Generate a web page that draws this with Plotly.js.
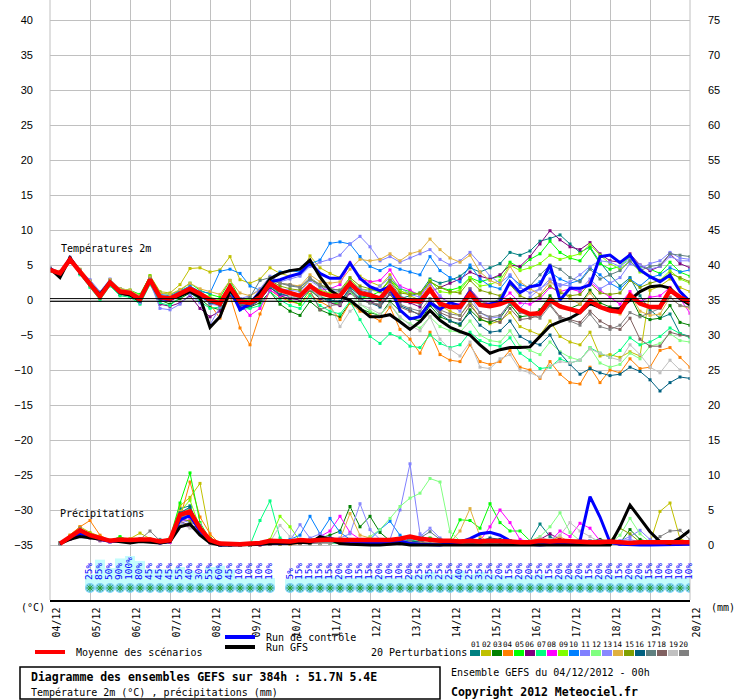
<!DOCTYPE html>
<html><head><meta charset="utf-8">
<script src="https://cdn.plot.ly/plotly-3.0.1.min.js"></script>
<style>html,body{margin:0;padding:0;background:#fff}#chart{width:740px;height:700px}</style>
</head><body><div id="chart"></div>
<script>
// ---------- DATA ----------
const dateLabels = ["04/12","05/12","06/12","07/12","08/12","09/12","10/12","11/12","12/12","13/12","14/12","15/12","16/12","17/12","18/12","19/12","20/12"];
const memberColors = ["#008080","#c0c000","#008000","#ff8000","#00ff00","#800080","#00ff80","#ff00ff","#80ff00","#0080ff","#8080ff","#80ff80","#8888ff","#e0b040","#80a000","#006080","#608080","#806060","#c0c0c0","#808080"];
const memberNames = ["01","02","03","04","05","06","07","08","09","10","11","12","13","14","15","16","17","18","19","20"];

// Temperature 2m (°C), every 6 h from 04/12 00h to 20/12 00h
const meanT = [4.3,3.8,5.8,4.0,2.4,0.5,2.5,1.2,1.0,0.1,2.9,0.4,0.2,0.9,1.6,0.9, 0.0,-0.5,1.9,-0.2,-0.4,0.4,2.4,1.4,1.0,0.6,2.0,1.0,0.6,0.6,2.4,1.0, 0.7,0.2,1.9,0.1,-0.1,-0.2,1.5,-0.5,-1.0,-1.0,0.9,-0.7,-0.9,-0.6,0.0,-1.4, -2.0,-1.9,0.0,-0.9,-1.3,-1.7,-0.1,-1.0,-1.5,-1.7,0.7,-0.5,-1.0,-1.0,1.4,0.4,-0.3];
const gfsT = [4.5,3.2,6.0,4.0,2.2,0.8,2.6,1.0,0.7,0.0,2.9,0.4,0.2,0.6,1.2,0.4, -3.9,-2.4,1.4,-0.3,-0.5,1.0,3.0,3.8,4.2,4.4,5.7,3.3,1.4,0.5,0.0,-1.2, -2.4,-2.4,-2.1,-3.1,-4.2,-3.1,-1.5,-2.9,-3.9,-4.5,-5.0,-6.4,-7.6,-7.1,-6.8,-6.8, -6.7,-5.2,-3.7,-3.1,-2.6,-1.8,-0.5,-1.05,-1.3,-1.2,0.0,1.2,1.9,2.05,1.7,0.2,-0.7];
const ctrlT = [4.5,3.6,6.0,4.0,2.4,0.6,2.5,1.2,1.0,0.2,2.8,0.2,0.0,0.8,1.4,0.6, 0.0,-0.6,1.6,-1.4,-0.5,1.2,2.6,2.9,3.4,3.8,5.3,3.8,3.1,3.1,5.3,3.1, 1.9,1.33,1.9,-1.43,-2.71,-2.38,-0.38,-1.33,-0.38,-0.86,1.19,-0.71,-0.57,-0.24,2.62,1.05, 1.9,2.14,5.0,0.0,1.67,1.67,2.14,6.19,6.43,5.33,6.43,4.29,3.33,2.62,3.57,1.19,-0.24];
const t01 = [4.4,3.9,5.9,4.2,2.2,0.6,2.4,1.0,0.8,0.0,2.7,0.2,0.0,0.7,1.5,0.6, -0.4,-0.8,1.6,-0.6,-0.8,0.2,2.0,1.0,0.4,0.0,1.6,0.4,-0.2,-0.4,1.8,0.6, 0.4,-0.2,1.4,0.2,0.6,1.0,3.0,2.4,2.8,3.4,4.6,4.0,4.6,5.2,6.8,6.4, 7.0,8.4,8.8,9.3,8.0,6.8,7.6,5.4,3.6,2.0,3.2,0.6,-1.4,-2.6,-2.0,-4.8,-5.2];
const t02 = [4.6,3.6,6.0,4.4,2.8,1.0,2.8,1.6,1.4,0.6,3.5,1.2,1.0,2.2,4.5,4.6, 4.0,4.3,6.2,2.9,2.4,3.0,4.6,3.8,3.4,3.6,6.3,4.6,3.8,3.2,5.0,3.4, 2.6,2.0,3.6,1.4,0.6,0.0,2.2,-0.8,-1.6,-2.2,-0.4,-2.6,-3.4,-3.0,-1.8,-3.8, -4.4,-5.0,-3.0,-5.2,-6.0,-6.4,-4.6,-8.0,-7.8,-8.2,-7.4,-8.0,1.4,2.0,3.0,1.8,1.2];
const t03 = [4.2,3.7,5.7,3.8,2.0,0.2,2.2,0.8,0.6,-0.4,2.4,0.0,-0.6,0.2,1.0,0.2, -1.0,-1.4,0.8,-1.2,-1.0,-0.4,1.2,-0.6,-1.6,-2.2,-0.2,-1.4,-2.0,-2.4,-0.4,-1.2, -1.8,-2.2,-0.2,-1.6,-2.6,-3.0,-0.8,-2.4,-3.0,-3.6,-1.4,-2.8,-3.2,-2.6,-0.6,-2.4, -2.2,-1.4,0.6,-0.8,-1.2,-0.6,1.4,-0.4,-1.0,-1.4,0.6,-2.2,-2.8,-2.6,-0.8,-3.2,-3.6];
const t04 = [4.3,3.9,5.9,4.0,2.6,0.8,2.7,1.4,1.2,0.3,3.2,0.6,0.4,1.2,2.0,1.0, -0.6,-2.6,0.6,-4.0,-6.4,-2.0,1.4,0.4,-0.2,-0.6,0.8,-0.2,-1.0,-2.8,-0.4,-1.6, -2.2,-3.0,-1.0,-4.2,-5.6,-7.6,-4.6,-7.8,-8.6,-8.8,-6.4,-8.8,-9.2,-8.8,-7.2,-9.6, -10.0,-11.2,-8.8,-10.6,-11.8,-12.0,-9.6,-11.8,-10.0,-10.4,-8.4,-9.8,-9.6,-7.2,-6.8,-8.2,-9.6];
const t05 = [4.5,4.0,6.0,4.2,2.6,0.8,2.9,1.6,1.4,0.8,3.4,1.0,0.8,1.4,2.4,1.4, 0.8,0.4,2.8,0.2,-0.6,0.0,2.6,0.6,0.0,-0.6,1.4,0.2,-0.4,-0.6,1.2,0.2, 0.6,1.2,3.0,1.6,1.2,0.8,2.6,1.8,1.4,1.8,3.2,2.6,3.0,3.4,5.4,4.6, 5.8,6.6,8.4,6.8,6.0,5.6,7.4,5.2,4.4,4.8,6.2,4.8,4.4,3.8,5.4,4.0,3.4];
const t06 = [4.2,3.6,5.6,3.9,2.2,0.4,2.2,0.8,0.6,-0.2,2.5,-0.6,-0.9,-0.4,0.6,-1.2, -2.4,-1.6,0.6,-1.0,-1.0,0.0,1.8,0.6,0.2,0.0,1.6,0.2,-0.4,-0.8,1.0,0.0, -0.2,-0.8,1.0,-0.2,-0.4,-1.0,1.2,1.8,2.4,3.0,4.0,3.4,3.0,3.6,5.0,4.8, 6.2,8.0,9.9,8.6,7.6,7.2,8.2,6.6,5.6,5.4,6.6,5.0,4.2,4.8,6.6,5.2,4.6];
const t07 = [4.1,3.5,5.5,3.6,1.8,0.0,2.0,0.6,0.4,-0.6,2.2,-0.4,-0.8,0.4,1.2,-0.2, -1.2,-1.0,1.0,-1.4,-1.2,-0.8,1.2,0.0,-0.8,-1.2,0.6,-0.8,-1.6,-2.0,-0.2,-2.8, -5.2,-6.2,-4.8,-5.4,-6.6,-6.8,-5.0,-6.2,-6.8,-6.4,-4.6,-5.8,-6.4,-6.6,-5.4,-7.6, -8.6,-9.8,-9.6,-8.4,-9.0,-8.6,-6.8,-7.6,-8.2,-7.2,-5.4,-6.4,-6.0,-5.2,-4.0,-4.8,-5.4];
const t08 = [4.3,3.8,5.8,4.1,2.5,0.6,2.6,1.3,1.1,0.2,3.0,0.5,0.3,1.0,1.8,1.0, 0.2,-0.4,1.8,-0.6,-2.2,-1.2,1.4,0.6,0.8,0.4,2.2,1.4,1.6,2.2,5.3,3.0, 2.6,2.8,4.3,2.0,1.4,0.6,2.4,0.4,-0.4,-0.6,1.6,0.0,-0.6,-0.2,1.0,-0.4, -0.6,0.2,1.8,1.2,1.6,1.2,2.6,1.4,0.4,-0.6,1.2,-0.2,0.4,0.6,1.8,0.2,-1.9];
const t09 = [4.4,3.9,5.9,4.1,2.5,0.7,2.6,1.3,1.1,0.3,2.9,0.6,0.5,1.1,1.8,1.1, 0.4,0.0,2.2,0.2,0.0,0.6,2.6,1.6,1.2,0.8,2.2,1.4,1.0,1.2,3.0,1.6, 1.4,1.2,3.0,1.2,1.0,0.8,2.8,1.2,1.0,1.4,3.2,2.0,2.2,2.8,5.0,4.2, 4.6,5.2,6.4,5.8,6.2,6.6,7.9,6.4,5.2,4.4,5.6,4.0,3.4,2.8,4.2,3.0,2.4];
const t10 = [4.5,4.0,6.0,4.3,2.7,0.9,2.8,1.5,1.3,0.4,3.1,0.8,0.6,1.3,2.0,1.2, 1.0,4.1,4.4,3.8,2.0,1.4,3.2,4.0,4.2,4.0,5.2,5.7,8.1,8.3,8.0,6.2, 4.8,4.2,5.0,4.4,4.0,3.6,6.2,4.2,3.2,2.6,5.0,3.0,2.0,1.6,3.4,2.2, 1.8,2.6,4.0,3.0,2.4,2.8,4.6,3.6,2.4,1.6,3.0,2.0,3.2,3.6,4.6,4.0,4.3];
const t11 = [4.6,4.0,6.1,4.2,2.9,1.2,3.0,1.6,1.2,-0.4,2.6,-1.2,-1.4,-0.6,0.8,-0.4, -3.5,-1.0,1.4,0.2,0.6,1.6,3.4,2.6,3.0,3.4,4.8,5.4,5.8,6.4,8.0,9.1, 7.6,5.6,6.2,5.4,6.0,6.6,7.2,5.8,5.0,5.6,6.8,5.2,3.4,2.4,3.6,1.8, 1.0,1.6,3.0,2.2,2.0,1.4,3.0,1.6,2.4,3.2,5.2,4.4,5.2,5.6,6.8,6.0,5.8];
const t12 = [4.2,3.8,5.7,3.9,2.1,0.3,2.3,1.0,0.9,0.2,2.8,0.3,0.1,0.8,1.5,0.8, -0.2,-0.6,1.6,-0.4,-0.6,0.2,2.2,1.2,0.8,0.4,1.8,0.6,0.0,-0.4,1.2,-0.6, -1.6,-2.2,-0.6,-2.6,-3.4,-4.0,-2.4,-3.8,-4.4,-4.6,-3.0,-5.0,-5.8,-6.0,-4.4,-6.6, -7.2,-7.8,-6.0,-7.4,-8.2,-8.6,-6.8,-9.0,-9.6,-9.2,-7.6,-8.4,-6.6,-6.2,-4.8,-5.8,-6.0];
const t13 = [4.4,3.9,5.9,4.2,2.4,0.5,2.4,1.1,0.9,0.0,2.8,0.3,0.1,0.7,1.4,0.6, -0.6,-0.8,1.2,-0.8,-0.6,0.6,2.6,1.6,1.4,1.2,2.8,1.8,1.4,1.2,2.6,1.6, 1.2,2.0,3.2,1.8,0.8,0.4,2.4,0.6,-0.6,-1.6,0.6,-1.8,-2.6,-2.4,-0.4,-1.2, 0.4,1.6,2.6,2.0,2.6,3.6,4.8,5.6,5.4,4.8,5.8,5.0,4.4,4.8,6.2,5.6,5.6];
const t14 = [4.5,4.1,6.0,4.3,2.7,0.9,2.9,1.6,1.4,0.6,3.3,1.0,0.8,1.5,2.4,1.6, 1.2,0.8,2.8,1.0,0.6,1.4,3.2,2.4,2.2,2.0,3.6,2.6,2.4,2.6,4.4,5.8, 5.6,5.8,6.6,5.6,6.6,7.0,8.7,7.2,6.0,5.4,6.4,4.0,2.8,2.2,4.8,2.6, 1.6,0.8,2.6,1.4,0.2,-0.6,1.0,-0.8,-1.4,-2.0,0.8,-1.6,-2.2,-2.0,0.4,-0.8,-1.2];
const t15 = [4.3,3.7,5.8,3.9,2.3,0.4,2.4,1.2,1.0,0.0,2.9,0.3,0.2,0.9,1.6,0.8, 0.0,-0.6,1.6,-0.4,-0.2,0.6,2.8,2.0,1.6,1.4,3.0,2.2,1.6,1.4,3.2,2.0, 1.6,1.2,2.8,1.0,0.8,1.0,2.6,1.8,1.2,1.0,2.8,1.4,1.0,0.6,2.2,0.6, 0.0,0.6,2.0,1.0,0.6,0.8,2.4,1.0,0.8,1.0,2.8,1.8,2.4,2.8,3.8,3.2,2.6];
const t16 = [4.2,3.6,5.6,3.8,2.2,0.4,2.3,1.0,0.8,-0.2,2.6,0.2,0.0,0.6,1.4,0.6, -0.4,-0.6,1.4,-0.8,-0.8,0.0,1.8,0.8,0.6,0.2,1.6,0.4,0.0,-0.2,1.6,0.2, -0.4,-1.0,0.8,-0.8,-1.4,-2.2,-0.4,-2.0,-3.0,-3.4,-1.8,-3.6,-4.6,-4.4,-3.0,-5.2, -6.0,-6.4,-5.0,-7.6,-9.2,-10.6,-9.8,-10.4,-10.8,-10.6,-9.6,-10.2,-11.4,-13.0,-11.8,-11.0,-11.2];
const t17 = [4.4,3.8,5.8,4.0,2.4,0.5,2.5,1.2,1.0,0.1,2.9,0.4,0.2,0.9,1.6,0.9, 0.2,-0.2,2.0,0.0,0.4,2.8,3.2,2.4,2.0,1.8,3.0,2.0,1.6,1.4,2.6,1.4, 1.0,0.4,2.6,0.6,0.0,-0.6,1.4,-0.4,-1.0,-0.8,1.6,-0.2,-0.6,0.2,2.2,1.2, 2.0,3.6,5.0,4.4,3.2,2.6,4.4,3.0,3.6,4.2,5.6,4.2,4.8,5.0,6.6,6.4,6.2];
const t18 = [4.3,3.8,5.8,4.0,2.3,0.4,2.4,1.1,0.9,0.0,2.8,0.3,0.1,0.8,1.5,0.7, -0.2,-0.8,1.4,-0.6,-0.4,0.2,2.0,1.2,0.6,0.2,1.4,-1.4,-0.8,-0.6,1.4,0.0, -0.4,-0.8,0.8,-1.0,-1.6,-2.0,-0.2,-1.8,-2.4,-2.8,-0.8,-2.4,-2.8,-3.2,-1.2,-2.8, -2.6,-2.2,-0.6,-2.4,-2.8,-3.2,-1.6,-3.0,-3.8,-4.2,-2.6,-5.6,-6.6,-6.6,-4.6,-5.0,-5.2];
const t19 = [4.3,3.8,5.8,4.0,2.4,0.5,2.5,1.2,1.0,0.1,2.8,0.4,0.2,0.8,1.5,0.8, 0.0,-0.4,1.8,-0.2,-0.2,0.4,2.2,1.2,0.6,0.2,1.6,0.4,-0.6,-3.8,-1.6,-0.6, -1.2,-2.0,-0.6,-2.4,-3.6,-4.4,-2.4,-5.6,-7.0,-8.0,-6.0,-9.6,-9.8,-8.4,-7.8,-10.0, -10.4,-11.0,-9.4,-8.8,-9.0,-8.6,-7.0,-7.6,-8.2,-8.6,-6.4,-7.8,-9.6,-10.4,-8.6,-10.0,-10.2];
const t20 = [4.4,3.8,5.8,4.1,2.4,0.6,2.6,1.2,1.0,0.2,3.0,0.5,0.3,1.0,1.7,1.0, 0.2,-0.2,2.1,0.0,-0.2,0.8,2.8,2.4,2.2,1.8,3.2,2.2,0.6,-0.6,1.4,0.0, -0.4,-0.6,1.4,-0.6,-1.2,-1.6,0.2,-1.4,-2.0,-2.2,-0.2,-1.8,-2.4,-2.2,-0.4,-1.8, -2.2,-2.6,-0.8,-2.6,-3.0,-3.6,-2.0,-3.8,-4.2,-3.6,-1.8,-2.4,-1.8,-1.2,0.4,-0.8,-1.0];

// Precipitation (mm per 6 h), from 04/12 06h to 20/12 00h
const meanR = [0.2,1.2,2.1,1.4,1.0,0.6,0.8,0.7,0.8,0.8,0.5,0.7,4.3,4.8,2.4,0.7, 0.2,0.1,0.1,0.2,0.3,0.6,0.5,0.5,0.7,0.6,0.7,0.8,0.7,0.7,0.7,0.6, 0.6,0.7,0.9,1.2,0.9,0.7,0.6,0.6,0.5,0.6,0.5,0.6,0.6,0.5,0.4,0.4, 0.6,0.5,0.6,0.5,0.5,0.4,0.4,0.5,0.4,0.3,0.4,0.4,0.3,0.3,0.4,0.4];
const gfsR = [0.2,0.8,1.2,1.0,0.8,0.6,0.4,0.3,0.5,0.4,0.3,0.5,2.6,3.0,1.4,0.3, 0.0,0.0,0.0,0.0,0.1,0.2,0.3,0.2,0.4,0.3,1.2,0.8,0.2,0.1,0.0,0.0, 0.0,0.1,0.2,0.0,0.0,0.0,0.0,0.0,0.1,0.0,0.0,0.0,0.0,0.0,0.0,0.0, 0.1,0.0,0.0,0.0,0.0,0.1,0.0,0.0,2.6,5.7,3.8,1.9,0.5,0.2,1.0,2.1];
const ctrlR = [0.2,1.0,1.6,1.2,0.8,0.5,0.6,0.4,0.6,0.7,0.3,0.5,3.6,4.2,2.0,0.5, 0.0,0.0,0.0,0.1,0.1,0.3,0.2,0.3,0.5,0.4,0.8,1.0,0.5,0.3,0.3,0.2, 0.4,0.3,0.6,0.2,0.1,0.0,0.0,0.2,0.4,0.9,1.6,1.8,1.4,0.6,0.2,0.1, 0.0,0.1,0.2,0.2,0.6,6.9,4.0,0.4,0.1,0.0,0.0,0.0,0.0,0.0,0.1,0.1];
const r01 = [0.3,1.2,2.4,1.6,1.0,0.5,0.8,0.6,0.9,0.7,0.4,0.6,5.2,5.6,2.0,0.6, 0.1,0.0,0.0,0.0,0.1,0.4,0.2,0.3,0.6,0.4,0.5,0.8,0.6,0.4,0.8,0.5, 0.4,0.6,0.8,0.6,0.4,0.9,0.5,0.3,0.4,0.6,0.8,0.4,0.5,0.6,0.3,0.6, 3.0,1.2,0.4,0.3,0.2,0.3,0.1,0.2,0.3,0.2,0.1,0.2,0.1,0.1,0.2,0.2];
const r02 = [0.2,1.4,2.6,1.8,1.2,0.7,1.0,0.9,1.7,0.9,0.6,0.8,5.6,6.8,8.8,1.2, 0.0,0.0,0.0,0.1,0.2,0.3,0.2,0.2,0.4,0.3,0.6,0.5,0.3,0.4,0.5,0.3, 0.2,0.3,0.4,0.2,0.2,0.3,0.2,0.4,0.3,0.3,0.4,0.2,0.2,0.3,0.3,0.2, 0.2,0.4,0.3,0.2,0.2,0.1,0.2,0.3,0.2,0.3,0.2,0.3,4.8,6.0,0.9,0.3];
const r03 = [0.3,1.0,1.8,1.2,0.8,0.5,0.6,0.5,0.7,0.6,0.4,0.5,4.0,4.0,2.2,0.4, 0.0,0.0,0.1,0.0,0.1,0.2,0.3,0.4,0.6,0.8,1.0,1.4,2.0,5.5,2.6,4.1, 1.8,0.6,0.4,0.3,0.5,0.8,0.6,0.4,0.3,0.4,0.2,0.3,0.2,0.4,0.3,0.2, 0.3,0.4,0.3,0.2,0.4,0.6,0.8,0.5,0.3,2.2,0.8,0.4,0.3,0.2,0.3,0.2];
const r04 = [0.3,1.4,2.6,3.5,1.4,0.6,0.8,0.5,0.6,0.7,0.4,0.6,3.8,9.0,4.0,1.6, 0.1,0.0,0.0,0.0,0.0,0.1,0.2,0.1,0.2,0.3,0.2,0.3,0.4,0.3,0.2,0.2, 0.3,0.2,0.4,0.5,0.3,0.2,0.3,0.2,0.3,0.4,0.2,0.3,0.2,0.3,0.2,0.1, 0.2,0.3,0.2,0.1,0.2,0.3,0.2,0.1,0.2,0.1,0.2,0.1,0.2,0.3,0.2,0.1];
const r05 = [0.2,1.2,2.0,1.4,1.0,0.6,1.2,0.6,0.8,0.6,0.5,1.0,6.0,10.3,3.2,0.8, 0.0,0.0,0.1,0.0,0.1,0.2,0.4,0.3,0.6,0.5,0.4,0.3,0.4,0.3,0.5,0.4, 0.3,0.4,0.3,0.6,0.8,1.0,0.8,0.6,3.6,3.5,2.4,5.9,3.2,2.0,2.0,0.6, 0.3,0.2,0.3,0.2,0.3,0.2,0.1,0.2,0.3,0.2,0.1,0.2,0.1,0.2,0.3,0.2];
const r06 = [0.2,0.8,1.6,1.0,0.6,0.4,0.5,0.4,0.6,0.5,0.3,0.4,2.8,2.6,1.6,0.3, 0.0,0.0,0.0,0.0,0.0,0.1,0.1,0.2,0.3,0.2,0.3,0.4,0.5,0.4,0.3,0.2, 0.3,0.2,0.4,0.3,0.2,0.2,0.3,0.4,0.3,0.2,0.3,0.4,0.5,0.3,0.4,0.6, 0.8,1.6,0.8,0.4,0.3,0.2,0.3,0.2,0.1,0.2,0.1,0.2,0.1,0.2,0.3,0.2];
const r07 = [0.3,1.0,1.8,1.2,0.8,0.5,0.6,0.5,0.6,0.5,0.4,0.5,4.5,5.2,2.0,0.5, 0.0,0.0,0.0,0.0,3.5,6.3,1.0,0.2,0.3,0.2,0.4,0.3,0.2,0.3,0.4,0.3, 0.2,0.3,0.2,0.3,0.4,0.3,0.2,0.3,0.2,0.3,0.2,0.3,0.2,0.1,0.2,0.3, 0.2,0.3,0.2,0.1,0.2,0.1,0.2,0.3,0.2,0.1,0.2,0.3,0.2,0.1,0.2,0.3];
const r08 = [0.2,1.0,1.8,1.2,0.8,0.5,0.5,0.4,0.6,0.5,0.4,0.4,3.4,3.6,2.6,0.4, 0.0,0.0,0.0,0.0,0.1,0.2,0.3,0.2,0.4,0.6,1.2,2.0,4.1,1.8,0.8,0.4, 0.3,0.4,0.2,0.3,0.4,0.3,0.2,0.3,0.4,0.3,0.6,2.6,5.0,3.2,0.8,0.4, 0.3,0.5,2.0,1.2,3.1,2.4,0.6,0.3,0.2,0.3,0.2,0.4,0.3,0.2,0.3,0.2];
const r09 = [0.3,1.2,2.2,1.4,0.9,0.6,0.7,0.6,0.8,0.6,0.4,0.6,4.8,6.4,2.4,0.6, 0.0,0.0,0.0,0.1,0.2,0.8,4.1,2.6,0.6,0.4,0.3,0.4,0.3,0.5,0.4,0.3, 0.2,0.3,0.4,0.2,0.3,0.2,0.3,0.4,0.3,0.2,0.3,0.2,0.3,0.2,0.3,0.4, 0.3,0.2,0.3,0.2,0.1,0.2,0.3,0.2,0.3,0.2,0.1,0.2,0.3,0.2,0.1,0.2];
const r10 = [0.2,1.1,2.0,1.4,0.9,0.5,0.6,0.5,0.7,0.6,0.4,0.5,4.2,4.6,2.0,0.8, 0.0,0.0,0.0,0.0,0.1,0.2,0.4,0.8,1.4,4.1,1.6,3.8,1.8,0.8,0.6,0.8, 2.2,3.4,1.4,0.6,0.4,0.3,0.2,0.3,0.4,0.3,0.2,0.3,0.4,0.3,0.2,0.3, 0.2,0.3,0.2,0.1,0.2,0.3,0.2,0.1,0.2,0.3,0.2,0.1,0.2,0.3,0.2,0.1];
const r11 = [0.2,0.9,1.6,1.2,0.7,0.4,0.6,0.5,0.6,0.5,0.3,0.5,3.2,2.8,2.2,0.5, 0.0,0.0,0.0,0.0,0.1,0.2,0.3,0.6,2.9,1.0,1.6,0.8,0.5,0.4,0.6,0.5, 0.4,0.8,5.0,11.6,1.6,0.4,0.3,0.2,0.3,0.4,0.3,0.2,0.3,0.2,0.3,0.4, 0.3,0.2,0.3,0.2,0.4,0.3,0.2,0.4,0.6,1.2,2.1,0.8,0.3,0.2,0.3,0.2];
const r12 = [0.3,1.1,2.0,1.3,0.9,0.6,0.7,0.5,0.7,0.6,0.4,0.6,4.4,4.6,3.0,0.6, 0.0,0.0,0.0,0.0,0.1,0.2,0.3,0.2,0.4,0.3,0.2,0.4,0.3,0.4,0.6,1.2, 2.2,3.8,5.5,6.7,7.4,9.5,9.0,1.9,0.6,0.4,0.3,0.2,0.3,0.4,0.3,0.6, 1.2,2.6,4.6,1.8,0.6,0.4,0.3,0.2,1.4,3.8,1.6,0.4,0.3,0.2,0.3,0.2];
const r13 = [0.2,1.0,1.8,1.2,0.8,0.5,0.6,0.4,0.6,0.5,0.4,0.5,3.6,3.2,2.8,0.5, 0.0,0.0,0.0,0.0,0.1,0.1,0.2,0.3,0.5,0.4,0.6,0.8,1.0,1.6,5.9,2.2, 0.8,0.4,0.3,0.6,1.2,2.4,1.0,0.4,0.3,0.2,0.3,0.4,0.3,0.2,0.3,0.4, 0.3,0.2,0.3,0.4,0.8,0.6,0.3,0.4,0.6,0.8,0.4,0.3,0.2,0.3,0.2,0.3];
const r14 = [0.3,1.2,2.2,1.5,1.0,0.6,0.8,0.6,0.8,0.6,0.5,0.6,4.8,5.0,2.0,0.6, 0.0,0.0,0.0,0.0,0.1,0.2,0.2,0.3,0.4,0.3,0.4,0.6,0.8,4.5,1.4,1.0, 0.4,0.3,0.2,0.3,0.4,0.3,0.2,0.3,2.0,5.2,1.2,0.4,0.3,0.2,0.3,0.4, 0.3,0.6,1.2,0.4,0.3,0.2,0.3,0.2,0.3,0.2,0.3,0.2,0.3,0.2,0.3,0.2];
const r15 = [0.2,1.0,1.8,1.2,0.8,0.5,0.6,0.5,0.6,0.5,0.4,0.5,3.8,3.4,2.4,0.4, 0.0,0.0,0.0,0.0,0.1,0.2,0.1,0.2,0.3,0.2,0.3,0.4,0.3,0.4,0.3,0.2, 0.3,0.2,0.3,0.4,0.3,0.2,0.3,0.2,0.3,0.4,0.3,0.2,0.3,0.2,0.3,0.2, 0.3,0.2,0.3,0.2,0.3,0.4,0.3,0.6,2.4,1.6,0.4,0.3,0.2,0.3,0.2,0.3];
const r16 = [0.3,1.1,2.0,1.4,0.9,0.5,0.7,0.5,0.7,0.6,0.4,0.5,4.6,5.4,2.4,0.9, 0.0,0.0,0.0,0.0,0.1,0.2,0.3,0.2,0.3,0.4,0.3,0.4,0.5,0.4,0.3,0.4, 0.6,0.4,0.3,0.4,0.6,0.8,0.6,0.4,0.3,0.4,0.6,1.0,0.8,0.6,0.4,0.3, 0.5,0.4,0.3,0.2,0.3,0.2,0.3,0.2,0.3,0.2,0.3,0.2,0.1,0.2,0.3,0.2];
const r17 = [0.2,1.0,1.9,1.3,0.8,0.5,0.6,0.5,0.7,0.6,0.8,0.5,4.0,4.0,2.8,0.5, 0.0,0.0,0.0,0.0,0.1,0.2,0.2,0.3,0.4,0.3,0.4,0.3,0.4,0.3,0.4,0.3, 0.4,0.3,0.4,0.6,1.0,1.9,0.8,0.4,0.3,0.2,0.3,0.4,0.3,0.2,0.3,0.4, 0.3,0.2,0.3,0.2,0.3,0.2,0.3,0.2,0.3,0.2,0.3,0.2,0.3,0.2,0.3,0.2];
const r18 = [0.2,0.9,1.7,1.1,0.7,0.5,0.6,0.4,0.6,0.5,0.4,0.5,3.4,2.8,2.4,0.4, 0.0,0.0,0.0,0.0,0.1,0.1,0.2,0.3,0.2,0.3,0.2,0.3,0.4,0.3,0.2,0.3, 0.2,0.3,0.2,0.3,0.4,0.3,0.2,0.3,0.2,0.3,0.4,0.3,0.2,0.3,0.2,0.3, 0.4,0.3,0.2,0.3,0.2,0.1,0.2,0.3,0.2,0.1,0.2,0.3,0.2,0.3,0.2,0.1];
const r19 = [0.3,1.0,1.8,1.2,0.8,0.5,0.6,0.5,0.7,0.5,0.4,0.5,3.0,2.4,2.0,0.4, 0.0,0.0,0.0,0.0,0.1,0.4,2.8,1.2,0.4,0.3,0.2,0.3,0.4,0.3,0.2,0.3, 0.2,0.3,0.2,0.3,0.2,0.3,0.4,0.3,0.2,0.3,0.2,0.3,0.2,0.3,0.4,0.6, 1.0,0.8,1.4,3.2,2.0,1.2,0.4,0.3,0.2,0.3,0.2,0.3,0.2,0.3,0.2,0.1];
const r20 = [0.3,1.2,2.4,1.4,0.9,0.6,0.8,0.6,0.8,2.0,0.6,0.6,4.2,4.2,1.6,0.6, 0.0,0.0,0.0,0.0,0.1,0.2,0.3,0.4,0.3,0.2,0.3,0.4,0.3,0.2,0.3,0.4, 0.3,0.2,0.3,0.4,0.3,0.2,0.3,0.4,0.3,0.2,0.3,0.4,0.3,0.2,0.3,0.4, 0.5,0.4,0.3,0.2,0.3,0.4,0.3,0.2,0.3,0.2,0.3,0.2,1.2,2.0,2.1,0.8];

// Probability labels (every 6 h), two blocks
const pctStartA = 24;
const pctA = [25,85,50,90,100,80,45,45,45,55,40,30,55,60,45,10,10,10,10];
const pctStartB = 144;
const pctB = [5,15,15,15,15,20,10,15,15,20,10,10,20,25,35,25,25,40,25,35,25,20,15,20,20,25,15,20,20,20,15,20,20,15,20,20,15,10,10,10,10];

// ---------- BUILD ----------
const tempT = [t01,t02,t03,t04,t05,t06,t07,t08,t09,t10,t11,t12,t13,t14,t15,t16,t17,t18,t19,t20];
const rainT = [r01,r02,r03,r04,r05,r06,r07,r08,r09,r10,r11,r12,r13,r14,r15,r16,r17,r18,r19,r20];
const hoursT = meanT.map((_, i) => i * 6);
const hoursR = meanR.map((_, i) => (i + 1) * 6);
const pctHours = pctA.map((_, i) => pctStartA + 6 * i).concat(pctB.map((_, i) => pctStartB + 6 * i));
const pctAll = pctA.concat(pctB);

const MONO = "DejaVu Sans Mono";
const PX = x => (x - 50) / 640;
const PY = y => (600 - y) / 600;
const mmAtPixel = y => (545 - y) / 7;

const traces = [];
// probability bars
traces.push({type:'bar', x:pctHours, y:pctAll.map(p => (9.6 + 0.244 * p) / 7), base:mmAtPixel(590), width:6,
  yaxis:'y2', marker:{color:'#c4fcfc', line:{width:0}}, hoverinfo:'skip'});
// snow icons
traces.push({type:'scatter', mode:'markers', x:pctHours, y:pctHours.map(() => mmAtPixel(588)), yaxis:'y2',
  marker:{symbol:'circle', size:10, color:'#7ccff2', line:{width:0}}, hoverinfo:'skip'});
traces.push({type:'scatter', mode:'markers', x:pctHours, y:pctHours.map(() => mmAtPixel(588)), yaxis:'y2',
  marker:{symbol:'asterisk-open', size:6, line:{color:'#3f7fe8', width:1}}, hoverinfo:'skip'});

tempT.forEach((arr, i) => {
  traces.push({type:'scatter', mode:'lines+markers', x:hoursT, y:arr, yaxis:'y',
    line:{color:memberColors[i], width:1}, marker:{size:3, symbol:'square', color:memberColors[i]}, hoverinfo:'skip'});
});
rainT.forEach((arr, i) => {
  traces.push({type:'scatter', mode:'lines+markers', x:hoursR, y:arr, yaxis:'y2',
    line:{color:memberColors[i], width:1}, marker:{size:3, symbol:'square', color:memberColors[i]}, hoverinfo:'skip'});
});
[[ctrlT, ctrlR, '#0000ff', 3], [gfsT, gfsR, '#000000', 3], [meanT, meanR, '#ff0000', 4.5]].forEach(([t, r, c, w]) => {
  traces.push({type:'scatter', mode:'lines', x:hoursT, y:t, yaxis:'y', line:{color:c, width:w}, hoverinfo:'skip'});
  traces.push({type:'scatter', mode:'lines', x:hoursR, y:r, yaxis:'y2', line:{color:c, width:w}, hoverinfo:'skip'});
});

const ann = [];
const txt = (text, x, y, size, opts) => ann.push(Object.assign({text, xref:'paper', yref:'paper', x:PX(x), y:PY(y),
  xanchor:'left', yanchor:'middle', showarrow:false, borderpad:0, font:{family:MONO, size, color:'#000'}}, opts || {}));
txt('Températures 2m', 60, 248, 10);
txt('Précipitations', 59, 513, 10);
txt('(°C)', 20, 607, 10);
txt('(mm)', 710, 607, 10);
txt('Moyenne des scénarios', 75, 652, 10);
txt('Run de contrôle', 265, 637, 10);
txt('Run GFS', 265, 647, 10);
txt('20 Perturbations', 370, 652, 10);
txt('<b>Diagramme des ensembles GEFS sur 384h : 51.7N 5.4E</b>', 30, 677, 11.5);
txt('Température 2m (°C) , précipitations (mm)', 30, 692, 10);
txt('Ensemble GEFS du 04/12/2012 - 00h', 450, 672, 10);
txt('<b>Copyright 2012 Meteociel.fr</b>', 450, 692, 11.5);
memberNames.forEach((n, i) => txt(n, 475 + 11 * i, 644, 7.5, {xanchor:'center'}));
pctAll.forEach((p, i) => ann.push({text:p + '%', xref:'x', yref:'y2', x:pctHours[i], y:mmAtPixel(581),
  xanchor:'center', yanchor:'bottom', textangle:-90, xshift:-1.5, showarrow:false, borderpad:0,
  font:{family:MONO, size:9.5, color:'#0000ff'}}));

const shapes = [];
const line = (x0, y0, x1, y1, color, width) => shapes.push({type:'line', xref:'paper', yref:'paper',
  x0:PX(x0), y0:PY(y0), x1:PX(x1), y1:PY(y1), line:{color, width}});
line(50, 0, 50, 600, '#c0c0c0', 1);
line(690, 0, 690, 600, '#c0c0c0', 1);
shapes.push({type:'line', xref:'paper', yref:'y', x0:0, x1:1, y0:0.2, y1:0.2, line:{color:'#000', width:1}});
shapes.push({type:'line', xref:'paper', yref:'y', x0:0, x1:1, y0:-0.2, y1:-0.2, line:{color:'#000', width:1}});
line(35, 652, 65, 652, '#ff0000', 4);
line(225, 637, 255, 637, '#0000ff', 4);
line(225, 647, 255, 647, '#000000', 4);
memberColors.forEach((c, i) => shapes.push({type:'rect', xref:'paper', yref:'paper',
  x0:PX(470 + 11 * i), x1:PX(480 + 11 * i), y0:PY(650), y1:PY(656), fillcolor:c, line:{width:0}}));
shapes.push({type:'rect', xref:'paper', yref:'paper', x0:PX(20), x1:PX(440), y0:PY(667), y1:PY(699),
  line:{color:'#000', width:1.5}, fillcolor:'rgba(0,0,0,0)'});

const ticks5 = (a, b) => { const v = []; for (let t = a; t <= b; t += 5) v.push(t); return v; };
const layout = {
  width:740, height:700, margin:{l:50, r:50, t:0, b:100, pad:0},
  paper_bgcolor:'#fff', plot_bgcolor:'#fff', showlegend:false, barmode:'overlay',
  xaxis:{range:[0, 384], tickvals:dateLabels.map((_, i) => i * 24), ticktext:dateLabels, tickangle:-90,
    tickfont:{family:MONO, size:10, color:'#000'}, ticks:'', ticklabelshift:7, ticklabelstandoff:2,
    showgrid:true, gridcolor:'#c0c0c0', gridwidth:1, zeroline:false, showline:true, linecolor:'#000', linewidth:1.5, fixedrange:true},
  yaxis:{range:[-35 - 55 / 7, 40 + 20 / 7], tickvals:ticks5(-35, 40), showgrid:true, gridcolor:'#c0c0c0', gridwidth:1,
    zeroline:false, ticks:'', ticklabelstandoff:16, tickfont:{family:'Liberation Sans', size:11, color:'#000'}, fixedrange:true},
  yaxis2:{range:[-55 / 7, 75 + 20 / 7], tickvals:ticks5(0, 75), overlaying:'y', side:'right', showgrid:false, zeroline:false,
    ticks:'', ticklabelstandoff:17, tickfont:{family:'Liberation Sans', size:11, color:'#000'}, fixedrange:true},
  annotations:ann, shapes:shapes
};
Plotly.newPlot('chart', traces, layout, {staticPlot:true, displayModeBar:false});
</script></body></html>
